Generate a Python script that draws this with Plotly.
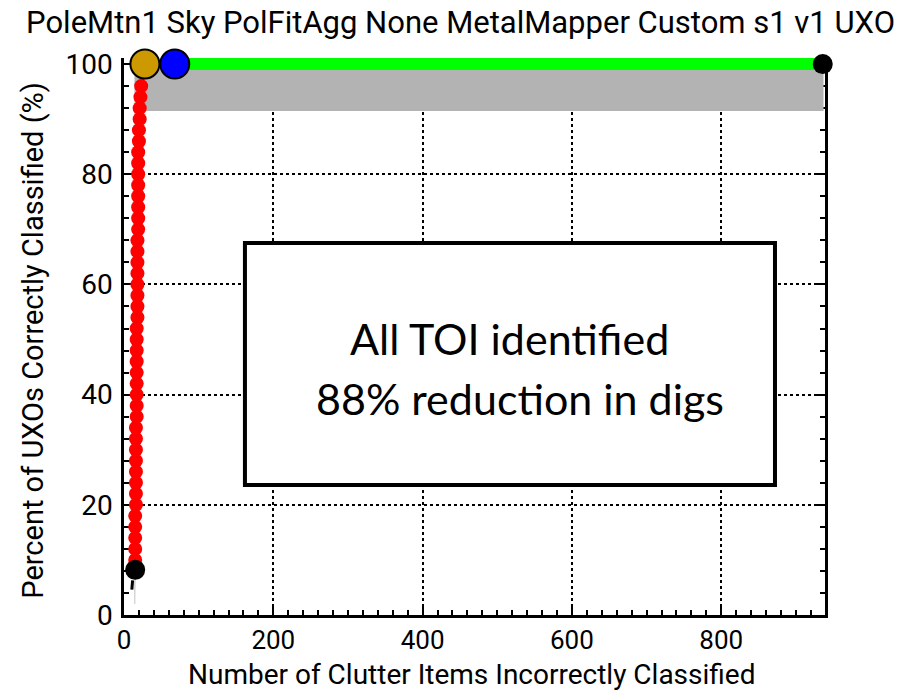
import plotly.graph_objects as go

# ---- data ----
title_text = "PoleMtn1 Sky PolFitAgg None MetalMapper Custom s1 v1 UXO"
x_title = "Number of Clutter Items Incorrectly Classified"
y_title = "Percent of UXOs Correctly Classified (%)"

red_y = [10, 12, 14, 16, 18, 20, 22, 24, 26, 28, 30, 32, 34, 36, 38, 40, 42, 44, 46, 48, 50, 52,
         54, 56, 58, 60, 62, 64, 66, 68, 70, 72, 74, 76, 78, 80, 82, 84, 86, 88, 90, 92, 94, 96]
red_x = [15, 15, 15, 15, 15, 16, 16, 16, 16, 16, 16, 16, 16, 17, 17, 17, 17, 17, 17, 17, 17, 17,
         18, 18, 18, 18, 18, 18, 18, 18, 19, 19, 19, 19, 19, 19, 19, 19, 20, 20, 21, 21, 22, 23]

start_pt = (15, 8.2)
orange_pt = (28, 100)
blue_pt = (68, 100)
end_pt = (936, 100)

band_x = [14, 15, 17, 19, 20, 22, 26, 27, 27, 937, 937, 14]
band_y = [2, 2, 30, 60, 80, 84, 88, 88, 91.5, 91.5, 100, 100]

stub_x = [10.5, 11.5]
stub_y = [4.6, 6.3]

box_x = [162, 872]
box_y = [23.6, 67.5]
note1 = "All TOI identified"
note2 = "88% reduction in digs"

xticks = [0, 200, 400, 600, 800]
yticks = [0, 20, 40, 60, 80, 100]

NARROW = "Roboto, Liberation Sans, sans-serif"

fig = go.Figure()

# gray confidence band
fig.add_trace(go.Scatter(x=band_x, y=band_y, fill="toself", mode="lines",
                         fillcolor="#b3b3b3", line=dict(width=0, color="#b3b3b3"),
                         hoverinfo="skip", showlegend=False))
# small black stub near origin
fig.add_trace(go.Scatter(x=stub_x, y=stub_y, mode="lines",
                         line=dict(color="black", width=3), showlegend=False))
# green line
fig.add_trace(go.Scatter(x=[blue_pt[0], end_pt[0]], y=[blue_pt[1], end_pt[1]], mode="lines",
                         line=dict(color="#00ff00", width=12), showlegend=False))
# red curve
fig.add_trace(go.Scatter(x=[start_pt[0]] + red_x + [orange_pt[0], blue_pt[0]],
                         y=[start_pt[1]] + red_y + [orange_pt[1], blue_pt[1]],
                         mode="lines", line=dict(color="red", width=4),
                         cliponaxis=False, showlegend=False))
fig.add_trace(go.Scatter(x=red_x, y=red_y, mode="markers",
                         marker=dict(color="red", size=14, line=dict(width=0)),
                         cliponaxis=False, showlegend=False))
# black start / end points
fig.add_trace(go.Scatter(x=[start_pt[0], end_pt[0]], y=[start_pt[1], end_pt[1]], mode="markers",
                         marker=dict(color="black", size=20), cliponaxis=False, showlegend=False))
# orange and blue
fig.add_trace(go.Scatter(x=[orange_pt[0]], y=[orange_pt[1]], mode="markers",
                         marker=dict(color="#cc9900", size=29, line=dict(color="black", width=2)),
                         cliponaxis=False, showlegend=False))
fig.add_trace(go.Scatter(x=[blue_pt[0]], y=[blue_pt[1]], mode="markers",
                         marker=dict(color="#0000ff", size=29, line=dict(color="black", width=2)),
                         cliponaxis=False, showlegend=False))

# text box
fig.add_shape(type="rect", xref="x", yref="y", x0=box_x[0], x1=box_x[1], y0=box_y[0], y1=box_y[1],
              line=dict(color="black", width=4), fillcolor="white", layer="above")
fig.add_annotation(x=517, y=50.2, xref="x", yref="y", text=note1, showarrow=False,
                   font=dict(family="Lato, Carlito, sans-serif", size=43, color="black"))
fig.add_annotation(x=530, y=39.3, xref="x", yref="y", text=note2, showarrow=False,
                   font=dict(family="Lato, Carlito, sans-serif", size=43, color="black"))

# titles
fig.add_annotation(x=0.496, y=-0.107, xref="paper", yref="paper", text=x_title, showarrow=False,
                   xanchor="center", yanchor="middle",
                   font=dict(family=NARROW, size=28, color="black"))
fig.add_annotation(x=-0.13, y=0.494, xref="paper", yref="paper", text=y_title, showarrow=False,
                   textangle=-90, xanchor="center", yanchor="middle",
                   font=dict(family=NARROW, size=29, color="black"))

fig.update_layout(
    width=903, height=690,
    margin=dict(l=124, r=78, t=58, b=75),
    paper_bgcolor="white", plot_bgcolor="white",
    title=dict(text=title_text, x=0.51, xanchor="center", y=1 - 22 / 690, yanchor="middle",
               yref="container", font=dict(family=NARROW, size=31, color="black")),
    showlegend=False,
)
fig.update_xaxes(range=[0, 939], tickvals=xticks, ticktext=[str(v) for v in xticks],
                 showline=True, linecolor="black", linewidth=2.5, mirror=False,
                 ticks="inside", ticklen=8, tickwidth=2, tickcolor="black",
                 minor=dict(dtick=20, ticks="inside", ticklen=5, tickwidth=1.5, tickcolor="black", showgrid=False),
                 showgrid=True, gridcolor="black", griddash="dot", gridwidth=2,
                 zeroline=False, layer="below traces",
                 tickfont=dict(family=NARROW, size=26, color="black"))
fig.update_yaxes(range=[0, 101.1], tickvals=yticks, ticktext=[str(v) for v in yticks],
                 showline=True, linecolor="black", linewidth=2.5, mirror="ticks",
                 ticks="inside", ticklen=8, tickwidth=2, tickcolor="black",
                 minor=dict(dtick=4, ticks="inside", ticklen=5, tickwidth=1.5, tickcolor="black", showgrid=False),
                 showgrid=True, gridcolor="black", griddash="dot", gridwidth=2,
                 zeroline=False, layer="below traces", ticklabelstandoff=3,
                 tickfont=dict(family=NARROW, size=28, color="black"))

fig.write_html("out.html")
